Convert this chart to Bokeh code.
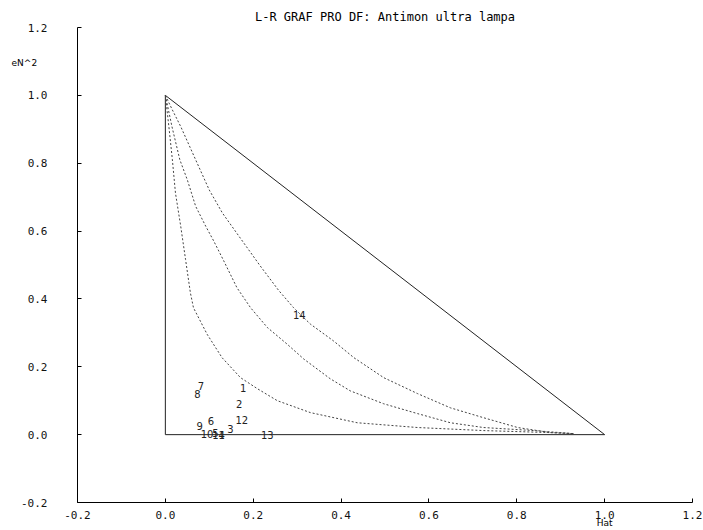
from bokeh.plotting import figure
from bokeh.models import Range1d, FixedTicker, ColumnDataSource, CustomJSTickFormatter
from bokeh.core.properties import value
from bokeh.embed import file_html
from bokeh.resources import INLINE

title_text = "L-R GRAF PRO DF: Antimon ultra lampa"
x_label = "Hat"
y_label = "eN^2"
ticks = [-0.2, 0.0, 0.2, 0.4, 0.6, 0.8, 1.0, 1.2]

# triangle boundary
tri_x = [0.0, 1.0, 0.0, 0.0]
tri_y = [1.0, 0.0, 0.0, 1.0]

# dotted contour curves
inner_x = [0.0, 0.008, 0.016, 0.023, 0.035, 0.046, 0.057, 0.064, 0.095, 0.129, 0.171, 0.210, 0.255, 0.330, 0.437, 0.574, 0.724, 0.877, 0.929]
inner_y = [1.0, 0.908, 0.810, 0.712, 0.614, 0.516, 0.418, 0.374, 0.296, 0.227, 0.168, 0.135, 0.100, 0.065, 0.035, 0.021, 0.012, 0.006, 0.003]
middle_x = [0.0, 0.015, 0.033, 0.050, 0.069, 0.092, 0.110, 0.133, 0.163, 0.194, 0.232, 0.277, 0.315, 0.375, 0.421, 0.497, 0.574, 0.649, 0.724, 0.838, 0.929]
middle_y = [1.0, 0.908, 0.810, 0.751, 0.673, 0.614, 0.571, 0.512, 0.433, 0.374, 0.316, 0.267, 0.223, 0.165, 0.129, 0.091, 0.062, 0.035, 0.021, 0.012, 0.003]
outer_x = [0.0, 0.016, 0.035, 0.069, 0.100, 0.130, 0.168, 0.215, 0.258, 0.292, 0.330, 0.383, 0.429, 0.497, 0.574, 0.649, 0.724, 0.802, 0.877, 0.929]
outer_y = [1.0, 0.957, 0.908, 0.810, 0.721, 0.653, 0.584, 0.499, 0.425, 0.374, 0.326, 0.276, 0.227, 0.168, 0.121, 0.079, 0.050, 0.021, 0.006, 0.003]

# labelled observations
obs_names = ["1", "2", "3", "4", "5", "6", "7", "8", "9", "10", "11", "12", "13", "14"]
obs_hat = [0.177, 0.168, 0.148, 0.128, 0.114, 0.104, 0.081, 0.073, 0.078, 0.095, 0.121, 0.174, 0.232, 0.305]
obs_en2 = [0.137, 0.091, 0.018, 0.000, 0.006, 0.041, 0.143, 0.121, 0.026, 0.003, 0.000, 0.043, 0.000, 0.352]

W, H = 703, 530
BL, BR, BT, BB = 77, 11, 27, 28
p = figure(width=W, height=H, output_backend="svg", toolbar_location=None,
           x_range=Range1d(-0.2, 1.2), y_range=Range1d(-0.2, 1.2),
           min_border_left=BL, min_border_right=BR, min_border_top=BT, min_border_bottom=BB)
p.outline_line_color = None
p.grid.visible = False
p.background_fill_color = "white"
p.border_fill_color = "white"

p.title.text = title_text
p.title.align = "center"
p.title.text_font = "DejaVu Sans Mono"
p.title.text_font_size = "12px"
p.title.text_font_style = "normal"
p.title.text_color = "black"
p.title.offset = 10
p.title.standoff = 8

fmt = CustomJSTickFormatter(code="return tick.toFixed(1);")
for ax in (p.xaxis[0], p.yaxis[0]):
    ax.ticker = FixedTicker(ticks=ticks)
    ax.formatter = fmt
    ax.major_tick_in = 4
    ax.major_tick_out = 0
    ax.minor_tick_line_color = None
    ax.axis_line_color = "black"
    ax.major_tick_line_color = "black"
    ax.major_label_text_font = "DejaVu Sans Mono"
    ax.major_label_text_font_size = "11px"
    ax.major_label_text_color = "#111111"
p.xaxis.major_label_standoff = 8
p.yaxis.major_label_standoff = 30

p.line(tri_x, tri_y, line_color="#222222", line_width=1)
for cx, cy in ((inner_x, inner_y), (middle_x, middle_y), (outer_x, outer_y)):
    p.line(cx, cy, line_color="#444444", line_width=1, line_dash="2 2")

src = ColumnDataSource(dict(x=obs_hat, y=obs_en2, t=obs_names))
p.text(x="x", y="y", text="t", source=src, text_align="center", text_baseline="middle",
       text_font=value("DejaVu Sans"), text_font_size="10px", text_color="#222222")

# axis names placed outside the frame (overlay level is not clipped to the frame)
p.text(x=[-0.321], y=[1.094], text=[y_label], text_align="center", text_baseline="middle",
       text_font=value("DejaVu Sans"), text_font_size="9px", text_color="black", level="overlay")
p.text(x=[1.0], y=[-0.259], text=[x_label], text_align="center", text_baseline="middle",
       text_font=value("DejaVu Sans"), text_font_size="9px", text_color="black", level="overlay")

open("out.html", "w").write(file_html(p, INLINE))
